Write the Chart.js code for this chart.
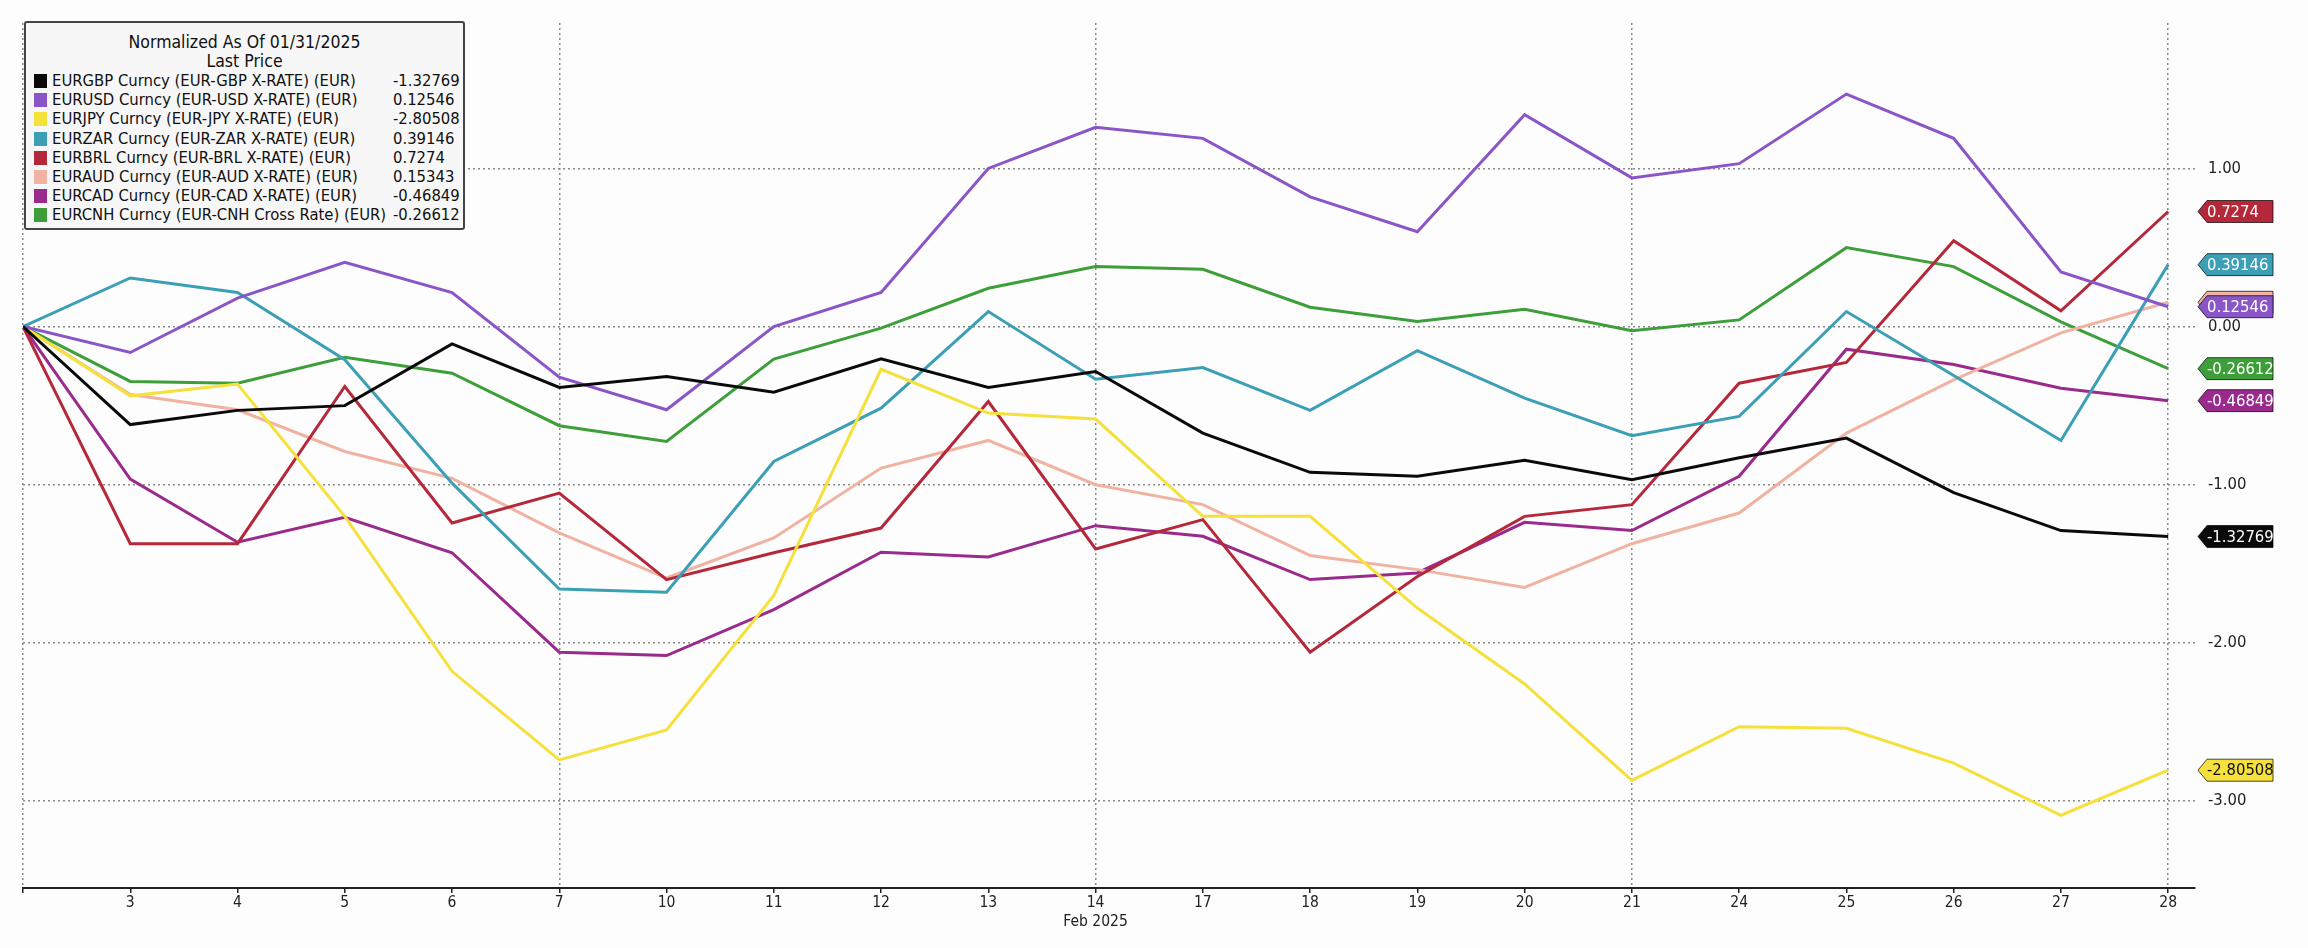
<!DOCTYPE html>
<html>
<head>
<meta charset="utf-8">
<title>Normalized FX vs EUR</title>
<script src="https://cdn.jsdelivr.net/npm/chart.js"></script>
<style>
    html, body {
        margin: 0;
        padding: 0;
        background: #fdfdfd;
    }

    .chart-wrap {
        position: relative;
        width: 2308px;
        height: 948px;
    }

    /* Legend box, top left over the plot */
    .fx-legend {
        position: absolute;
        left: 24px;
        top: 21px;
        width: 437px;
        height: 205px;
        border: 2px solid #444;
        border-radius: 3px;
        background: #f7f7f7;
        font-family: "DejaVu Sans Condensed", "DejaVu Sans", sans-serif;
        font-size: 16.5px;
        color: #111;
    }

    .fx-legend .title {
        position: absolute;
        left: 0;
        width: 100%;
        text-align: center;
        line-height: 19px;
        font-size: 17.5px;
    }

    .fx-legend .row {
        position: absolute;
        left: 0;
        width: 100%;
        height: 19px;
        line-height: 19px;
        white-space: nowrap;
    }

    .fx-legend .swatch {
        position: absolute;
        left: 8px;
        top: 3px;
        width: 13px;
        height: 14px;
    }

    .fx-legend .name {
        position: absolute;
        left: 26px;
    }

    .fx-legend .val {
        position: absolute;
        left: 367px;
    }
</style>
</head>
<body>
<div class="chart-wrap">
    <canvas id="fx-chart" width="2308" height="948"></canvas>
    <div class="fx-legend" id="fx-legend"></div>
</div>

<script>
// Trading days in Feb 2025, first point is the 01/31 base
const dayLabels = ['', '3', '4', '5', '6', '7', '10', '11', '12', '13', '14',
    '17', '18', '19', '20', '21', '24', '25', '26', '27', '28'];
const monthLabel = 'Feb 2025';
const weekGridDays = [0, 5, 10, 15, 20];
const yTicks = [-3, -2, -1, 0, 1];

const seriesNames = [
    'EURGBP Curncy (EUR-GBP X-RATE) (EUR)',
    'EURUSD Curncy (EUR-USD X-RATE) (EUR)',
    'EURJPY Curncy (EUR-JPY X-RATE) (EUR)',
    'EURZAR Curncy (EUR-ZAR X-RATE) (EUR)',
    'EURBRL Curncy (EUR-BRL X-RATE) (EUR)',
    'EURAUD Curncy (EUR-AUD X-RATE) (EUR)',
    'EURCAD Curncy (EUR-CAD X-RATE) (EUR)',
    'EURCNH Curncy (EUR-CNH Cross Rate) (EUR)'
];

const seriesColors = ['#0a0a0a', '#8a55c6', '#f6e03c', '#3c9fb6', '#b5283a', '#f0b3a2', '#9a2b8c', '#3d9e3a'];

// Normalized values
const eurgbp = [0, -0.62, -0.53, -0.50, -0.11, -0.385, -0.316, -0.415, -0.204, -0.385, -0.284,
    -0.674, -0.922, -0.947, -0.846, -0.968, -0.83, -0.705, -1.05, -1.29, -1.32769];
const eurusd = [0, -0.164, 0.18, 0.406, 0.215, -0.32, -0.526, 0.0, 0.215, 1.0, 1.26,
    1.19, 0.82, 0.60, 1.34, 0.94, 1.03, 1.47, 1.19, 0.345, 0.12546];
const eurjpy = [0, -0.438, -0.364, -1.2, -2.18, -2.74, -2.55, -1.70, -0.27, -0.547, -0.585,
    -1.2, -1.2, -1.78, -2.26, -2.87, -2.53, -2.54, -2.76, -3.09, -2.80508];
const eurzar = [0, 0.307, 0.215, -0.21, -0.99, -1.66, -1.68, -0.853, -0.516, 0.095, -0.333,
    -0.259, -0.53, -0.152, -0.453, -0.69, -0.568, 0.095, -0.31, -0.72, 0.39146];
const eurbrl = [0, -1.373, -1.373, -0.379, -1.242, -1.053, -1.6, -1.43, -1.274, -0.474, -1.406,
    -1.221, -2.059, -1.58, -1.2, -1.126, -0.358, -0.227, 0.543, 0.10, 0.7274];
const euraud = [0, -0.43, -0.526, -0.79, -0.96, -1.305, -1.59, -1.337, -0.895, -0.72, -1.0,
    -1.126, -1.448, -1.537, -1.65, -1.373, -1.179, -0.674, -0.337, -0.04, 0.15343];
const eurcad = [0, -0.964, -1.364, -1.206, -1.43, -2.059, -2.08, -1.79, -1.427, -1.457, -1.259,
    -1.326, -1.6, -1.558, -1.238, -1.29, -0.947, -0.143, -0.24, -0.39, -0.46849];
const eurcnh = [0, -0.347, -0.358, -0.194, -0.295, -0.627, -0.726, -0.206, -0.01, 0.242, 0.379,
    0.362, 0.122, 0.032, 0.109, -0.027, 0.042, 0.499, 0.379, 0.03, -0.26612];

const seriesValues = [eurgbp, eurusd, eurjpy, eurzar, eurbrl, euraud, eurcad, eurcnh];

const FONT = '"DejaVu Sans Condensed", "DejaVu Sans", sans-serif';

function buildLegend() {
    const box = document.getElementById('fx-legend');
    let html = '<div class="title" style="top:10px">Normalized As Of 01/31/2025</div>';
    html += '<div class="title" style="top:29px">Last Price</div>';
    seriesNames.forEach((name, i) => {
        const values = seriesValues[i];
        const top = 48 + i * 19.2;
        html += `<div class="row" style="top:${top}px">
            <span class="swatch" style="background:${seriesColors[i]}"></span>
            <span class="name">${name}</span>
            <span class="val">${String(values[values.length - 1])}</span>
        </div>`;
    });
    box.innerHTML = html;
}

// Last value tags on the right edge
const lastValueTags = {
    id: 'lastValueTags',
    afterDatasetsDraw(chart) {
        const ctx = chart.ctx;
        const yScale = chart.scales.y;
        const xTip = chart.chartArea.right + 3;
        const xEnd = xTip + 75;
        const h = 22;
        ctx.save();
        ctx.font = '16.5px ' + FONT;
        ctx.textBaseline = 'middle';
        for (let i = chart.data.datasets.length - 1; i >= 0; i--) {
            const ds = chart.data.datasets[i];
            const last = ds.data[ds.data.length - 1].y;
            const y = yScale.getPixelForValue(last);
            ctx.beginPath();
            ctx.moveTo(xTip, y);
            ctx.lineTo(xTip + 9, y - h / 2);
            ctx.lineTo(xEnd, y - h / 2);
            ctx.lineTo(xEnd, y + h / 2);
            ctx.lineTo(xTip + 9, y + h / 2);
            ctx.closePath();
            ctx.fillStyle = ds.borderColor;
            ctx.fill();
            ctx.lineWidth = 1;
            ctx.strokeStyle = 'rgba(0, 0, 0, 0.7)';
            ctx.stroke();
            ctx.fillStyle = i === 2 ? '#111' : '#ffffff';
            ctx.fillText(String(last), xTip + 9, y + 1);
        }
        ctx.restore();
    }
};

document.addEventListener('DOMContentLoaded', () => {
    buildLegend();

    const datasets = seriesNames.map((name, i) => ({
        label: name,
        data: seriesValues[i].map((v, j) => ({ x: j, y: v })),
        borderColor: seriesColors[i],
        backgroundColor: seriesColors[i],
        borderWidth: 3,
        pointRadius: 0,
        tension: 0,
        fill: false
    }));

    new Chart(document.getElementById('fx-chart'), {
        type: 'line',
        data: { datasets: datasets },
        options: {
            responsive: false,
            animation: false,
            devicePixelRatio: 1,
            layout: {
                padding: { left: 23, top: 18, right: 0, bottom: 0 }
            },
            plugins: {
                legend: { display: false },
                tooltip: { enabled: false }
            },
            scales: {
                x: {
                    type: 'linear',
                    min: 0,
                    max: 20.25,
                    afterBuildTicks: (scale) => {
                        scale.ticks = dayLabels.map((d, i) => ({ value: i }));
                    },
                    afterFit: (scale) => {
                        scale.height = 60;
                    },
                    ticks: {
                        autoSkip: false,
                        maxRotation: 0,
                        padding: 1,
                        color: '#222',
                        font: { family: FONT, size: 15.5 },
                        callback: (value) => {
                            if (value === 10) return [dayLabels[value], monthLabel];
                            return dayLabels[value];
                        }
                    },
                    grid: {
                        color: (c) => weekGridDays.includes(c.tick && c.tick.value) ? '#8a8a8a' : 'rgba(0,0,0,0)',
                        lineWidth: 1.5,
                        tickColor: '#222',
                        tickLength: 5,
                        tickWidth: 1.5
                    },
                    border: {
                        display: true,
                        color: '#222',
                        width: 2,
                        dash: [2, 3]
                    }
                },
                y: {
                    position: 'right',
                    min: -3.55,
                    max: 1.92,
                    afterBuildTicks: (scale) => {
                        scale.ticks = yTicks.map((v) => ({ value: v }));
                    },
                    afterFit: (scale) => {
                        scale.width = 113;
                    },
                    ticks: {
                        padding: 13,
                        color: '#222',
                        font: { family: FONT, size: 16.5 },
                        callback: (value) => value.toFixed(2)
                    },
                    grid: {
                        color: '#8a8a8a',
                        lineWidth: 1.5,
                        drawTicks: false
                    },
                    border: {
                        display: false,
                        dash: [2, 3]
                    }
                }
            }
        },
        plugins: [lastValueTags]
    });
});
</script>
</body>
</html>
